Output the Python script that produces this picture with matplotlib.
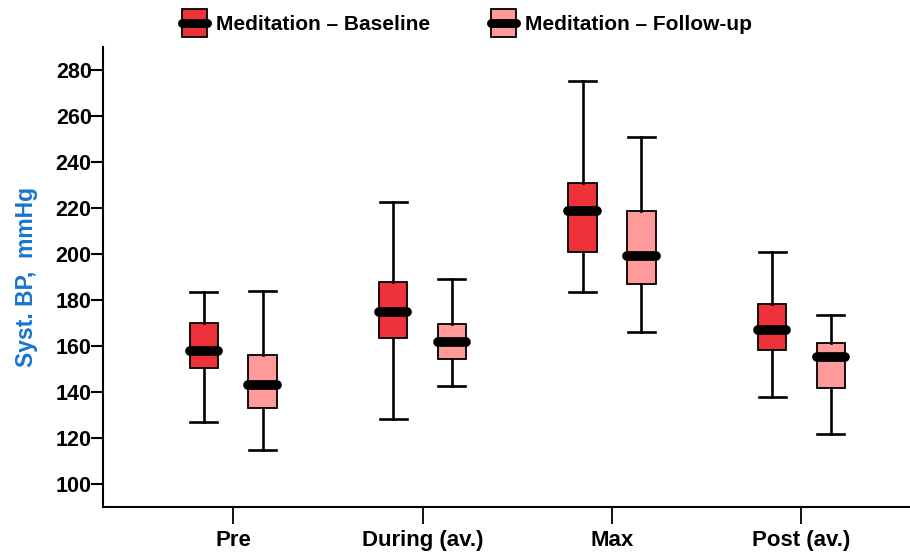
import numpy as np
import matplotlib
matplotlib.use('Agg')
import matplotlib.pyplot as plt
from matplotlib.legend_handler import HandlerBase
from matplotlib.patches import Rectangle, Patch
from matplotlib.lines import Line2D

plt.rcParams['font.family'] = ['Liberation Sans', 'DejaVu Sans']
plt.rcParams['font.weight'] = 'bold'

### DATA ######################################################################
groups = ['Pre', 'During (av.)', 'Max', 'Post (av.)']

# Meditation - Baseline
base_whislo = [127, 128.5, 183.5, 138]
base_q1 = [150.5, 163.5, 201, 158.5]
base_med = [158, 175, 218.5, 167]
base_q3 = [170, 188, 231, 178.5]
base_whishi = [183.5, 222.5, 275, 201]

# Meditation - Follow-up
fu_whislo = [115, 142.5, 166, 122]
fu_q1 = [133, 154.5, 187, 142]
fu_med = [143, 162, 199, 155.5]
fu_q3 = [156, 169.5, 218.5, 161.5]
fu_whishi = [184, 189, 251, 173.5]

series_names = ['Meditation \u2013 Baseline', 'Meditation \u2013 Follow-up']
colors = ['#EE323A', '#FF9A9A']

### PLOT ######################################################################
def make_stats(lo, q1, med, q3, hi):
	return [dict(whislo=a, q1=b, med=c, q3=d, whishi=e, fliers=[])
			for a, b, c, d, e in zip(lo, q1, med, q3, hi)]

fig = plt.figure(figsize=(9.1, 5.52), dpi=100)
ax = fig.add_axes([0.113, 0.082, 0.887, 0.8334])

pos = np.arange(1, len(groups) + 1)
off = 0.155
w = 0.15

all_stats = [make_stats(base_whislo, base_q1, base_med, base_q3, base_whishi),
			 make_stats(fu_whislo, fu_q1, fu_med, fu_q3, fu_whishi)]

for k, st in enumerate(all_stats):
	p = pos + (off if k else -off)
	ax.bxp(st, positions=p, widths=w, capwidths=w * 0.95, patch_artist=True,
		   showfliers=False,
		   boxprops=dict(facecolor=colors[k], edgecolor='black', linewidth=1.3),
		   whiskerprops=dict(color='black', linewidth=1.9),
		   capprops=dict(color='black', linewidth=1.9),
		   medianprops=dict(color='black', linewidth=7, solid_capstyle='round'))

ax.set_xlim(0.312, 4.573)
ax.set_ylim(90.3, 290)
ax.set_yticks(np.arange(100, 281, 20))
ax.set_xticks(pos)
ax.set_xticklabels(groups)

for s in ['top', 'right']:
	ax.spines[s].set_visible(False)
for s in ['left', 'bottom']:
	ax.spines[s].set_linewidth(1.5)

ax.tick_params(axis='y', length=9, width=1.5, pad=-1, labelsize=15.5)
ax.tick_params(axis='x', length=12, width=1.3, pad=5, labelsize=16)
for t in ax.get_xticklabels() + ax.get_yticklabels():
	t.set_fontweight('bold')

ax.set_ylabel('Syst. BP,  mmHg', color='#1874CD', fontsize=16.5, fontweight='bold',
			  labelpad=13)

# legend: box + median line
class BoxHandler(HandlerBase):
	def create_artists(self, legend, orig, xd, yd, wd, ht, fs, trans):
		x0, y0 = -xd, -yd
		r = Rectangle((x0, y0 - ht * 0.45), wd, ht * 1.9, facecolor=orig.get_facecolor(),
					  edgecolor='black', linewidth=1.3, transform=trans)
		l = Line2D([x0, x0 + wd], [y0 + ht / 2] * 2, color='black', linewidth=6.5,
				   solid_capstyle='round', transform=trans)
		return [r, l]

handles = [Patch(facecolor=c) for c in colors]
fig.legend(handles, series_names, loc='center', bbox_to_anchor=(0.513, 0.955),
		   ncol=2, frameon=False, handler_map={Patch: BoxHandler()},
		   prop=dict(weight='bold', size=15), handlelength=1.2,
		   handletextpad=0.45, columnspacing=2.9)

fig.savefig('out.png', dpi=100)
